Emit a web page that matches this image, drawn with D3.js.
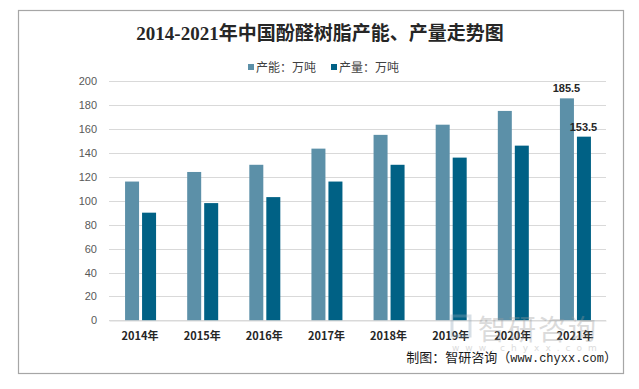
<!DOCTYPE html>
<html lang="zh">
<head>
<meta charset="UTF-8">
<title>2014-2021年中国酚醛树脂产能、产量走势图</title>
<script src="https://d3js.org/d3.v7.min.js"></script>
<style>
    body { margin: 0; background: #fff; }
    svg { display: block; }
</style>
</head>
<body>
<svg id="chart" width="639" height="389"></svg>
<script>
// data
const years = ["2014年", "2015年", "2016年", "2017年", "2018年", "2019年", "2020年", "2021年"];
const capacity = [116, 124, 130, 143.5, 155, 163.5, 175, 185.5];
const output = [90, 98, 103, 116, 130, 136, 146, 153.5];
const seriesNames = ["产能：万吨", "产量：万吨"];
const yTicks = [0, 20, 40, 60, 80, 100, 120, 140, 160, 180, 200];

const colors = ["#5c90a8", "#006185"];
const cjk = "'Noto Sans CJK SC', sans-serif";

const svg = d3.select("#chart");

// outer frame
svg.append("rect")
    .attr("x", 18.5).attr("y", 10.5)
    .attr("width", 605).attr("height", 363)
    .attr("fill", "#fff")
    .attr("stroke", "#a6a6a6")
    .attr("stroke-width", 1.2);

// title
svg.append("text")
    .attr("x", 320).attr("y", 40)
    .attr("text-anchor", "middle")
    .attr("font-family", "'Liberation Serif', 'Noto Sans CJK SC', serif")
    .attr("font-size", 19)
    .attr("font-weight", "bold")
    .attr("fill", "#262626")
    .text("2014-2021年中国酚醛树脂产能、产量走势图");

// legend
const legend = svg.append("g").attr("font-family", cjk).attr("font-size", 12).attr("fill", "#404040");
[[248, 0], [331, 1]].forEach(([lx, i]) => {
    legend.append("rect").attr("x", lx).attr("y", 64).attr("width", 6).attr("height", 6).attr("fill", colors[i]);
    legend.append("text").attr("x", lx + 8).attr("y", 71.5).text(seriesNames[i]);
});

// scales
const margin = { left: 109, right: 606, top: 81, bottom: 320.4 };
const x = d3.scaleBand().domain(years).range([margin.left, margin.right]);
const y = d3.scaleLinear().domain([0, 200]).range([margin.bottom, margin.top]);

// grid
svg.append("g")
    .selectAll("line")
    .data(yTicks)
    .join("line")
    .attr("x1", margin.left).attr("x2", margin.right)
    .attr("y1", d => Math.round(y(d)) + 0.5).attr("y2", d => Math.round(y(d)) + 0.5)
    .attr("stroke", "#d9d9d9")
    .attr("stroke-width", 1);

// y axis labels
const yAxis = svg.append("g")
    .attr("transform", `translate(${margin.left - 12},0)`)
    .call(d3.axisLeft(y).tickValues(yTicks).tickSize(0).tickPadding(0));
yAxis.select(".domain").remove();
yAxis.selectAll("text")
    .attr("font-family", "'Liberation Sans', Arial, sans-serif")
    .attr("font-size", 11)
    .attr("fill", "#595959");

// bars
const barW = 14, gap = 3;
const groups = svg.append("g").selectAll("g")
    .data(years)
    .join("g")
    .attr("transform", d => `translate(${x(d) + x.bandwidth() / 2},0)`);

groups.append("rect")
    .attr("x", -barW - gap / 2 + 0.5)
    .attr("y", (d, i) => y(capacity[i]))
    .attr("width", barW)
    .attr("height", (d, i) => y(0) - y(capacity[i]))
    .attr("fill", colors[0]);

groups.append("rect")
    .attr("x", gap / 2 + 0.5)
    .attr("y", (d, i) => y(output[i]))
    .attr("width", barW)
    .attr("height", (d, i) => y(0) - y(output[i]))
    .attr("fill", colors[1]);

// x axis
const xAxis = svg.append("g")
    .attr("transform", `translate(0,${Math.round(y(0)) + 0.5})`)
    .call(d3.axisBottom(x).tickSize(0).tickPadding(12));
xAxis.select(".domain").attr("stroke", "#d9d9d9");
xAxis.selectAll("text")
    .attr("font-family", "'Noto Sans CJK SC', sans-serif")
    .attr("font-size", 11)
    .attr("font-weight", "bold")
    .attr("fill", "#262626");

// watermark
const wm = svg.append("g").attr("opacity", 0.35);
wm.append("rect").attr("x", 452).attr("y", 316).attr("width", 18).attr("height", 20).attr("fill", "none")
    .attr("stroke", "#8fa6b8").attr("stroke-width", 3);
wm.append("text").attr("x", 478).attr("y", 340)
    .attr("font-family", cjk).attr("font-size", 28).attr("fill", "#9a9a9a")
    .attr("letter-spacing", 2)
    .text("智研咨询");
wm.append("text").attr("x", 452).attr("y", 351)
    .attr("font-family", "'DejaVu Sans', sans-serif").attr("font-size", 9).attr("fill", "#9a9a9a")
    .attr("letter-spacing", 6)
    .text("www.chyxx.com");

// last-year value labels
const last = years.length - 1;
const cx = x(years[last]) + x.bandwidth() / 2;
svg.append("g")
    .attr("font-family", "'Liberation Sans', Arial, sans-serif")
    .attr("font-size", 11)
    .attr("font-weight", "bold")
    .attr("fill", "#262626")
    .attr("text-anchor", "middle")
    .selectAll("text")
    .data([[capacity[last], -barW / 2 - gap / 2], [output[last], barW / 2 + gap / 2]])
    .join("text")
    .attr("x", d => cx + d[1])
    .attr("y", d => y(d[0]) - 6)
    .text(d => d[0]);

// source note
const note = svg.append("text")
    .attr("x", 617).attr("y", 362)
    .attr("text-anchor", "end")
    .attr("font-family", cjk)
    .attr("font-size", 13)
    .attr("fill", "#1a1a1a");
note.append("tspan").text("制图：智研咨询（");
note.append("tspan").attr("font-family", "'Liberation Mono', monospace").attr("font-size", 12).text("www.chyxx.com");
note.append("tspan").text("）");
</script>
</body>
</html>
